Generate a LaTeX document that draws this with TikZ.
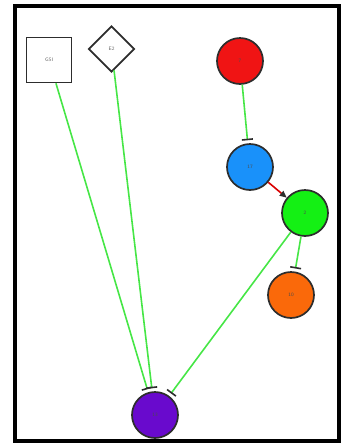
\documentclass[tikz,border=0pt]{standalone}
\usepackage{tikz}
\usetikzlibrary{arrows.meta,shapes.geometric}

\definecolor{edgegreen}{RGB}{70,230,70}
\definecolor{nodered}{RGB}{240,20,20}
\definecolor{nodeblue}{RGB}{25,145,250}
\definecolor{nodegreen}{RGB}{20,240,20}
\definecolor{nodeorange}{RGB}{250,105,10}
\definecolor{nodepurple}{RGB}{105,10,205}
\definecolor{rimgray}{RGB}{45,45,45}

\tikzset{
  gene/.style={circle, draw=rimgray, line width=1.7pt, minimum size=46pt,
    inner sep=0pt, font=\sffamily\fontsize{5}{6}\selectfont, text=black!70},
  drugbox/.style={rectangle, draw=rimgray, line width=1.7pt, minimum size=45pt,
    inner sep=0pt, font=\sffamily\fontsize{5}{6}\selectfont, text=black!60},
  drugdiamond/.style={diamond, draw=rimgray, line width=1.7pt, minimum size=46pt,
    inner sep=0pt, font=\sffamily\fontsize{5}{6}\selectfont, text=black!60},
  inhibit/.style={edgegreen, line width=1.6pt, shorten >=3pt,
    -{Bar[width=11pt, line width=1.6pt, color=rimgray]}},
  activate/.style={red!85!black, line width=1.6pt,
    -{Triangle[length=7pt, width=6pt, color=rimgray]}}
}

\begin{document}
\begin{tikzpicture}[x=1pt, y=-1pt]
  \useasboundingbox (0,0) rectangle (347,448);

  % Frame
  \draw[line width=3.5pt] (15,6) rectangle (339,441);

  % Drugs
  \node[drugbox] (gsi) at (49,60) {GSI};
  \node[drugdiamond] (etwo) at (111.5,49) {E2};

  % Genes
  \node[gene, fill=nodered] (n7) at (240,61) {7};
  \node[gene, fill=nodeblue] (n17) at (250,167) {17};
  \node[gene, fill=nodegreen] (n2) at (305,213) {2};
  \node[gene, fill=nodeorange] (n10) at (291,295) {10};
  \node[gene, fill=nodepurple] (n13) at (155,415) {13};

  % Inhibitions
  \draw[inhibit] (gsi) -- (n13);
  \draw[inhibit] (etwo) -- (n13);
  \draw[inhibit] (n2) -- (n13);
  \draw[inhibit] (n7) -- (n17);
  \draw[inhibit] (n2) -- (n10);

  % Activation
  \draw[activate] (n17) -- (n2);
\end{tikzpicture}
\end{document}
